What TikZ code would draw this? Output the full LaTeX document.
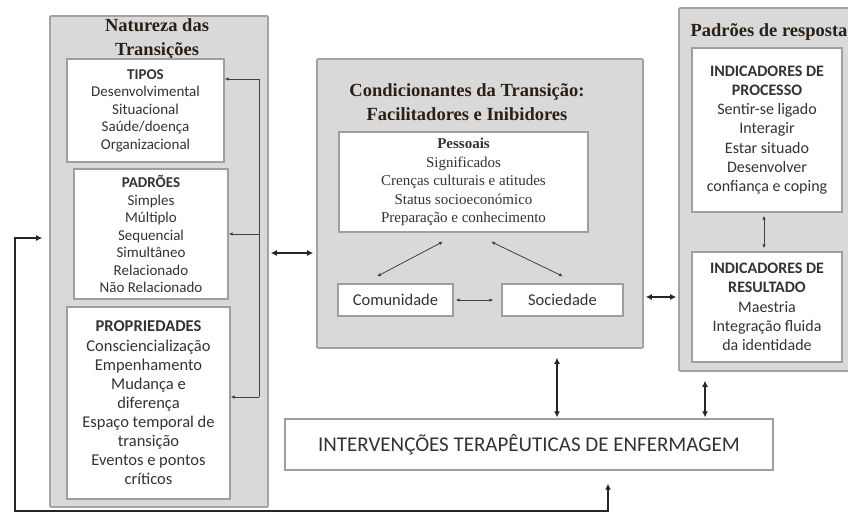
\documentclass[tikz,border=0pt]{standalone}
\usepackage{fontspec}
\setmainfont{Liberation Serif}
\newfontfamily\calib{Carlito}
\usetikzlibrary{calc,arrows.meta}
\definecolor{boxgray}{HTML}{D9D9D9}
\definecolor{edgegray}{HTML}{A3A3A3}
\definecolor{textgray}{HTML}{333333}
\definecolor{titlebrown}{HTML}{2A2016}
\begin{document}
\begin{tikzpicture}[x=1pt,y=-1pt,
  outerbox/.style={draw=edgegray,fill=boxgray,line width=1.6pt,rounded corners=1pt,inner sep=0pt},
  innerbox/.style={draw=gray!75,fill=white,line width=1.3pt,inner sep=0pt,align=center,text=textgray},
  sanstext/.style 2 args={font=\calib\fontsize{#1}{#2}\selectfont},
  boxtitle/.style={align=center,text=titlebrown,font=\bfseries\fontsize{18.5}{23.5}\selectfont},
  thinline/.style={draw=black!75,line width=0.8pt},
  thinarr/.style={thinline,{Latex[length=4pt,width=3.5pt]}-{Latex[length=4pt,width=3.5pt]}},
  tothin/.style={thinline,-{Latex[length=4pt,width=3.5pt]}},
  bigarr/.style={draw=black!85,line width=2.2pt,{Latex[length=6pt,width=6pt]}-{Latex[length=6pt,width=6pt]}}]
  \clip (0,0) rectangle (848,513);
  \fill[white] (0,0) rectangle (848,513);
  \node[outerbox,minimum width=218,minimum height=491] (natur) at (159,261.5) {};
  \node[boxtitle] (naturt) at (157,39) {Natureza das\\Transições};
  \node[innerbox,sanstext={15}{17.5},minimum width=157,minimum height=103] (tipos) at (145.5,110.5)
    {\textbf{TIPOS}\\Desenvolvimental\\Situacional\\Saúde/doença\\Organizacional};
  \node[innerbox,sanstext={15}{17.5},minimum width=154,minimum height=130] (padroes) at (151,234)
    {\textbf{PADRÕES}\\Simples\\Múltiplo\\Sequencial\\Simultâneo\\Relacionado\\Não Relacionado};
  \node[innerbox,sanstext={16.5}{19.1},minimum width=163,minimum height=192] (propr) at (148.5,403)
    {\textbf{PROPRIEDADES}\\Consciencialização\\Empenhamento\\Mudança e\\diferença\\Espaço temporal de\\transição\\Eventos e pontos\\críticos};
  \node[outerbox,minimum width=326,minimum height=289] (cond) at (480,203.5) {};
  \node[boxtitle] (condt) at (467,102) {Condicionantes da Transição:\\Facilitadores e Inibidores};
  \node[innerbox,font=\fontsize{15}{18.5}\selectfont,minimum width=249,minimum height=100] (pessoais) at (463.5,182)
    {\textbf{Pessoais}\\Significados\\Crenças culturais e atitudes\\Status socioeconómico\\Preparação e conhecimento};
  \node[innerbox,sanstext={16.5}{19},minimum width=115,minimum height=32] (comun) at (395.5,300) {Comunidade};
  \node[innerbox,sanstext={16.5}{19},minimum width=121,minimum height=32] (socied) at (562.5,300) {Sociedade};
  \node[outerbox,minimum width=183,minimum height=363] (resp) at (770.5,189.5) {};
  \node[boxtitle,anchor=west] (respt) at (687,32) {Padrões de resposta};
  \node[innerbox,sanstext={16}{19.2},minimum width=150,minimum height=164] (procs) at (767,130)
    {\textbf{INDICADORES DE}\\\textbf{PROCESSO}\\Sentir-se ligado\\Interagir\\Estar situado\\Desenvolver\\confiança e coping};
  \node[innerbox,sanstext={16}{19.2},minimum width=150,minimum height=110] (result) at (767,307)
    {\textbf{INDICADORES DE}\\\textbf{RESULTADO}\\Maestria\\Integração fluida\\da identidade};
  \node[innerbox,sanstext={21}{25},minimum width=488,minimum height=51] (interv) at (529,444.5)
    {INTERVENÇÕES TERAPÊUTICAS DE ENFERMAGEM};
  \coordinate (brt) at (259,79);
  \coordinate (brb) at (259,397);
  \coordinate (lr) at (290,253);
  \coordinate (mr) at (660,297);
  \coordinate (ci) at (557,380);
  \coordinate (ri) at (705,395);
  \coordinate (fb) at (608,511);
  \coordinate (fl) at (15,511);
  \coordinate (fin) at (30,238);
  \draw[thinline] (brt) -- (brb);
  \draw[tothin] (brt) -- (tipos.east |- brt);
  \draw[tothin] (brt |- padroes.east) -- (padroes.east);
  \draw[tothin] (brb) -- (propr.east |- brb);
  \draw[thinarr] ($(pessoais.south)+(-20.5,9)$) -- ($(comun.north)+(-18.5,-7)$);
  \draw[thinarr] ($(pessoais.south)+(27.5,9)$) -- ($(socied.north)+(0.5,-7)$);
  \draw[thinarr,shorten <=2pt,shorten >=8pt] (comun) -- (socied);
  \draw[thinarr,shorten <=3pt,shorten >=3pt] ($(procs.south)+(-3,0)$) -- ($(result.north)+(-3,0)$);
  \draw[bigarr,shorten <=2pt,shorten >=3pt] (natur.east |- lr) -- (cond.west |- lr);
  \draw[bigarr,shorten <=2pt,shorten >=2pt] (cond.east |- mr) -- (resp.west |- mr);
  \draw[bigarr,shorten <=9pt,shorten >=1pt] (cond.south -| ci) -- (interv.north -| ci);
  \draw[bigarr,shorten <=9pt,shorten >=1pt] (resp.south -| ri) -- (interv.north -| ri);
  \draw[bigarr,shorten <=13pt,shorten >=7pt] (interv.south -| fb) -- (fb) -- (fl) |- (natur.west |- fin);
\end{tikzpicture}
\end{document}
